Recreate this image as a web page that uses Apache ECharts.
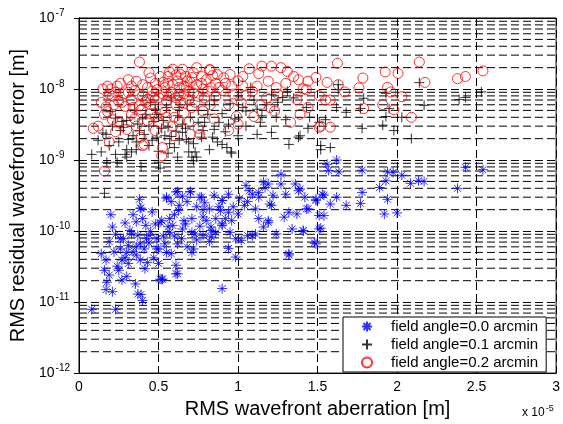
<!DOCTYPE html>
<html>
<head>
<meta charset="utf-8">
<script src="https://cdn.jsdelivr.net/npm/echarts@6/dist/echarts.min.js"></script>
<style>
  html, body { margin: 0; padding: 0; background: #fff; }
  #chart { width: 563px; height: 424px; }
</style>
</head>
<body>
<div id="chart"></div>
<script>
// x values in units of 1e-5 m, y values in m
const xTicks = [0, 0.5, 1, 1.5, 2, 2.5, 3];
const minorGridY = [
  2e-12, 3e-12, 4e-12, 5e-12, 6e-12, 7e-12, 8e-12, 9e-12,
  2e-11, 3e-11, 4e-11, 5e-11, 6e-11, 7e-11, 8e-11, 9e-11,
  2e-10, 3e-10, 4e-10, 5e-10, 6e-10, 7e-10, 8e-10, 9e-10,
  2e-9, 3e-9, 4e-9, 5e-9, 6e-9, 7e-9, 8e-9, 9e-9,
  2e-8, 3e-8, 4e-8, 5e-8, 6e-8, 7e-8, 8e-8, 9e-8
];
const legendNames = ['field angle=0.0 arcmin', 'field angle=0.1 arcmin', 'field angle=0.2 arcmin'];

const angle00 = [
  [0.08,7.9e-12],[0.23,7.9e-12],[0.17,1.5e-11],[0.21,1.4e-11],[0.37,1.3e-11],[0.39,1.28e-11],[0.40,1.05e-11],[0.90,1.55e-11],
  [0.38,2.8e-10],[0.385,2.1e-10],[0.20,1.7e-10],[0.21,1.14e-10],[0.19,7.1e-11],[0.17,3.9e-11],[0.16,2.8e-11],[0.175,1.9e-11],
  [0.26,5.6e-11],[0.27,3.9e-11],[0.25,2.8e-11],[0.27,2.05e-11],[0.31,3.5e-11],[0.30,2.3e-11],[0.355,1.8e-11],[0.33,9.1e-11],
  [0.36,1.35e-10],[0.385,3.9e-11],[0.415,2.95e-11],[0.31,6.3e-11],[0.34,5.1e-11],[0.45,9.8e-11],[0.48,1.26e-10],[0.46,1.86e-10],
  [0.50,5.6e-11],[0.50,3.5e-11],[0.52,2.1e-11],[0.54,6.6e-11],[0.55,3e-10],[0.61,3.55e-10],[0.625,1.95e-10],[0.59,1.2e-10],
  [0.58,4.8e-11],[0.61,2.5e-11],[0.645,7.8e-11],[0.67,1.26e-10],[0.70,3.55e-10],[0.72,5.6e-11],[0.73,9.1e-11],[0.77,3e-10],
  [0.78,1.58e-10],[0.82,2.05e-10],[0.83,1.02e-10],[0.52,1.4e-10],[0.425,7.8e-11],[0.385,6.6e-11],[0.28,7.8e-11],[0.22,5.1e-11],
  [1.62,1.0e-9],[1.56,8.7e-10],[1.57,7.1e-10],[1.635,6.8e-10],[1.27,6.3e-10],[1.05,4.4e-10],[1.16,4.9e-10],[1.19,4.6e-10],
  [1.27,4.6e-10],[1.36,4.6e-10],[1.38,3.7e-10],[1.13,3.5e-10],[0.94,3.3e-10],[1.07,3.7e-10],[1.30,3.3e-10],[1.22,3.2e-10],
  [1.42,3e-10],[1.49,2.8e-10],[1.54,3.2e-10],[1.62,3e-10],[1.68,2.3e-10],[1.58,2.4e-10],[0.90,2.7e-10],[1.06,2.6e-10],
  [1.20,2.4e-10],[1.11,2.05e-10],[1.32,1.84e-10],[1.37,1.74e-10],[1.43,2.05e-10],[1.29,1.57e-10],[1.19,1.33e-10],[1.16,1.14e-10],
  [1.11,9.1e-11],[1.09,8.6e-11],[1.06,8.6e-11],[1.02,7.4e-11],[1.24,9.1e-11],[1.34,1.07e-10],[1.41,1.02e-10],[1.51,1.07e-10],
  [1.51,1.65e-10],[1.54,1.65e-10],[1.49,6.6e-11],[1.32,4.6e-11],[0.985,4.3e-11],[0.94,5.7e-11],[0.96,1.4e-10],[1.00,1.74e-10],
  [0.89,1.95e-10],[0.86,1.5e-10],[0.83,1.14e-10],[0.82,7.1e-11],[0.90,1.2e-10],[0.95,9.6e-11],
  [1.78,7.2e-10],[1.94,6.8e-10],[1.975,6.7e-10],[2.03,6.1e-10],[1.93,5.1e-10],[1.89,4.1e-10],[2.085,4.7e-10],[2.135,5.1e-10],
  [2.17,5e-10],[2.38,4e-10],[2.43,7.9e-10],[2.54,7.3e-10],[1.78,3.5e-10],[1.77,2.45e-10],[1.94,2.8e-10],[1.92,1.74e-10],
  [2.00,1.8e-10],[1.53,3.3e-10],[1.49,2.7e-10],[1.52,1.1e-10],[1.41,1.0e-10],[1.48,6.8e-11],[1.44,2.05e-10],[1.39,3.9e-10],
  [0.62,3.6e-10],[0.70,3.6e-10],[0.76,3e-10],[0.90,2.7e-10],[0.39,2.1e-10],[0.55,2.9e-10],[0.63,2.3e-10],[0.78,2e-10],
  [0.80,1.4e-10],[0.90,1.26e-10],[0.94,1.84e-10],[0.985,7.8e-11],[0.51,2.1e-11],[0.525,2.1e-11],[0.62,2.5e-11],[0.71,5e-11],
  [0.61,3.3e-11],[0.83,8.3e-11],[0.78,8.7e-11],[0.71,9.6e-11],[0.65,1.07e-10],[0.57,9.6e-11],[0.51,1.33e-10],[0.49,7.8e-11],
  [0.41,5.6e-11],[0.36,4.6e-11],[0.30,5e-11],[0.26,7.8e-11],[0.32,1.02e-10],[0.37,8.7e-11],[0.44,8.7e-11],[0.42,1.2e-10],
  [0.57,1.5e-10],[0.71,1.5e-10],[0.76,1.17e-10],[0.62,6.6e-11],[0.55,5e-11],[0.49,5.6e-11],[1.09,3.3e-10],[1.17,4.1e-10],
  [1.13,3e-10],[1.04,2.3e-10],[1.21,2.3e-10],[1.32,4.8e-11],[1.19,1.4e-10],[1.13,1.5e-10],
  [0.23,9e-11],[0.29,1.3e-10],[0.34,1.7e-10],[0.40,1.5e-10],[0.44,6.8e-11],[0.47,4.2e-11],[0.53,8.5e-11],[0.56,1.15e-10],
  [0.60,1.7e-10],[0.66,1.4e-10],[0.68,2.6e-10],[0.74,2.2e-10],[0.79,2.5e-10],[0.85,3.2e-10],[0.88,2.2e-10],[0.92,1.5e-10],
  [0.97,2.2e-10],[1.01,2.9e-10],[0.58,2.6e-10],[0.65,3.1e-10],[0.36,6e-11],[0.29,4.2e-11],[0.24,3.2e-11],[0.19,2.4e-11],
  [0.14,4.8e-11],[0.43,3.6e-11],[0.68,6e-11],[0.74,7.5e-11],[0.86,9.5e-11],[0.60,8.5e-11]
];

const angle01 = [
  [0.08,1.2e-9],[0.17,2.3e-9],[0.23,1.2e-9],[0.24,9.3e-10],[0.30,1.1e-9],[0.33,1.3e-9],[0.36,1.8e-9],[0.21,3e-9],
  [0.27,3.5e-9],[0.31,1.95e-9],[0.44,3e-9],[0.49,2.1e-9],[0.50,9.3e-10],[0.56,2.9e-9],[0.58,2.15e-9],[0.61,2.55e-9],
  [0.65,2.45e-9],[0.675,1.95e-9],[0.72,9.8e-10],[0.73,1.3e-9],[0.77,2.1e-9],[0.69,1.3e-9],[0.75,3.4e-9],[0.81,4.4e-9],
  [0.49,4.4e-9],[0.42,4.4e-9],[0.50,1.33e-9],[0.54,2.2e-9],[0.29,1.2e-9],
  [0.87,1.8e-9],[0.90,1.66e-9],[0.93,1.5e-9],[0.955,1.3e-9],[0.88,3.4e-9],[0.94,3.2e-9],[1.00,2.2e-9],[1.12,2.3e-9],
  [1.14,3.4e-9],[1.21,2.45e-9],[1.32,1.66e-9],[1.39,2.2e-9],[1.30,3.7e-9],[1.28,7.6e-9],[1.18,6e-9],[1.21,8.3e-9],
  [1.31,9.3e-9],[1.08,1.05e-8],[1.05,4.9e-9],[1.24,4e-9],[1.43,5.5e-9],[1.51,3.4e-9],[1.55,3.7e-9],[1.62,5.5e-9],
  [1.63,9.8e-9],[1.52,1.6e-9],[1.58,1.5e-9],[0.82,6e-9],[0.85,2.7e-9],
  [1.63,1.15e-8],[1.79,7.4e-9],[1.77,5.3e-9],[1.93,8.7e-9],[1.95,5.3e-9],[1.93,4.1e-9],[2.03,4e-9],[1.91,3.1e-9],
  [1.98,2.6e-9],[1.78,2.8e-9],[2.09,2e-9],[2.17,5.9e-9],[2.14,1.23e-8],[2.39,7.1e-9],[2.43,7.6e-9],[2.53,9.1e-9],
  [1.38,2.1e-9],[1.52,1.4e-9],[1.68,4.7e-9],[1.44,2.8e-9],
  [0.16,3.4e-10],[0.175,9.3e-10],[0.39,8.1e-10],[0.51,7.7e-10],[0.71,1.1e-9],[0.74,1.1e-9],[0.69,1.8e-9],[0.96,1.25e-9],
  [0.30,1.4e-9],[0.36,1.4e-9],
  [0.35,5e-9],[0.45,6.5e-9],[0.55,5.5e-9],[0.62,4.2e-9],[0.68,6e-9],[0.75,5e-9],[0.85,7e-9],[0.90,4.5e-9],
  [0.95,6.2e-9],[1.00,8e-9],[0.58,7.5e-9],[0.40,3.8e-9],[0.30,3.6e-9],[0.20,4.8e-9],[0.15,2.4e-9],[0.12,1.9e-9],
  [0.52,2.8e-9],[0.65,3.2e-9],[0.78,2.6e-9],[0.72,1.7e-9],[0.82,1.4e-9],[0.60,1.5e-9],[0.44,1.6e-9],[0.26,2.6e-9],
  [1.10,7e-9],[1.15,4.2e-9],[1.25,6.5e-9],[1.35,7.5e-9],[1.45,4e-9],[1.05,3e-9],
  [0.14,1.3e-9],[0.19,1.6e-9],[0.25,1.8e-9],[0.28,2.9e-9],[0.34,2.2e-9],[0.38,2.6e-9],[0.41,2.3e-9],[0.46,1.9e-9],
  [0.47,3.5e-9],[0.53,3.6e-9],[0.57,1.7e-9],[0.63,1.9e-9],[0.67,2.8e-9],[0.70,4e-9],[0.79,3.4e-9],[0.84,2.1e-9],
  [0.92,2.5e-9],[0.98,3.8e-9],[1.03,5.5e-9],[1.12,5.2e-9],[0.63,5.5e-9],[0.48,5.2e-9],[0.37,3.2e-9],[0.23,3.9e-9],
  [0.56,1.25e-9],[0.62,1.1e-9]
];

const angle02 = [
  [0.38,2.4e-8],[0.09,2.8e-9],[0.16,7e-10],[0.525,1.5e-9],[0.40,1.6e-9],[0.19,1.8e-9],
  [1.625,2.3e-8],[2.14,2.4e-8],[2.54,1.8e-8],[2.43,1.5e-8],[2.38,1.4e-8],[2.175,1.24e-8],[2.006,1.66e-8],[1.925,1.74e-8],
  [1.785,1.43e-8],[1.76,1.04e-8],[1.94,1.06e-8],[1.96,9.1e-9],[2.03,7.8e-9],[1.91,6e-9],[1.98,5.1e-9],[2.09,4e-9],
  [1.79,5.3e-9],[1.63,1.15e-8],[1.67,9.1e-9],[1.58,7e-9],[1.51,2.9e-9],[1.58,2.9e-9],[1.56,1.24e-8],[1.49,1.46e-8],
  [1.44,1.29e-8],[1.55,7e-9],[1.44,5.5e-9],[1.51,8.1e-9],[1.41,1e-8],
  [1.07,1.93e-8],[1.15,2.1e-8],[1.21,2.1e-8],[1.27,2.0e-8],[1.31,1.77e-8],[1.13,1.65e-8],[0.91,1.44e-8],[1.03,1.5e-8],
  [1.38,1.35e-8],[1.19,1.29e-8],[1.03,1.1e-8],[0.96,1.1e-8],[0.88,1.05e-8],[0.82,1.87e-8],[1.24,1.05e-8],[1.43,9.8e-9],
  [1.09,9.3e-9],[0.86,7.9e-9],[1.37,7.1e-9],[1.02,6.4e-9],[0.94,6e-9],[1.14,6e-9],[1.23,4.9e-9],[1.39,4.4e-9],
  [0.99,4.1e-9],[1.10,4.1e-9],[1.33,3.4e-9],[0.94,2.6e-9],[1.52,3e-9],
  [0.17,5.6e-9],[0.16,4.4e-9],[0.18,1.1e-8],[0.20,1e-8],[0.24,1.1e-8],[0.21,7.9e-9],[0.25,6.7e-9],[0.21,3.7e-9],
  [0.23,2.5e-9],[0.29,5.7e-9],[0.33,1.1e-8],[0.33,7.1e-9],[0.33,4.4e-9],[0.36,1.29e-8],[0.375,8.3e-9],[0.39,5.1e-9],
  [0.36,3e-9],[0.41,1.66e-9],[0.45,1.43e-8],[0.46,9.3e-9],[0.45,6e-9],[0.48,4e-9],[0.52,1.15e-9],[0.51,1.5e-8],
  [0.50,7.6e-9],[0.54,1.05e-8],[0.56,1.5e-8],[0.59,1.15e-8],[0.61,1.58e-8],[0.625,8.3e-9],[0.61,6e-9],[0.67,1.5e-8],
  [0.675,1.05e-8],[0.69,7.1e-9],[0.72,1.7e-8],[0.74,1.15e-8],[0.75,7.9e-9],[0.71,5.5e-9],[0.69,3.4e-9],[0.70,2.3e-9],
  [0.76,2.3e-9],[0.825,1.87e-8],[0.81,9.3e-9],[0.825,6e-9],[0.78,4.9e-9],[0.54,4.7e-9],[0.50,3.4e-9],[0.59,3e-9],
  [0.39,2.1e-9],[0.25,3.5e-9],[0.30,2.7e-9],
  [0.62,1.3e-8],[0.58,9e-9],[0.64,6.5e-9],[0.70,1.25e-8],[0.78,1.0e-8],[0.55,6.8e-9],[0.48,1.2e-8],[0.42,6.5e-9],
  [0.80,1.35e-8],[0.86,1.2e-8],[0.90,9.5e-9],[0.72,8.8e-9],[0.66,4.6e-9],[0.60,4e-9],[0.52,5.2e-9],[0.45,4.5e-9],
  [0.38,5.8e-9],[0.35,9.5e-9],[0.28,8.5e-9],[0.22,6e-9],[0.14,6.5e-9],[0.26,1.2e-8],[0.12,3e-9],[0.95,1.6e-8],
  [1.00,1.3e-8],[1.05,8.2e-9],[1.12,1.1e-8],[1.18,7.5e-9],[1.25,8.5e-9],[1.30,1.2e-8],[1.35,1.5e-8],[1.20,5.5e-9],
  [1.00,3.2e-9],[0.85,3.8e-9],[0.75,2.8e-9],[0.60,2.2e-9],[0.48,2.6e-9],
  [0.57,1.75e-8],[0.65,1.9e-8],[0.68,1.3e-8],[0.53,1.25e-8],[0.63,1.05e-8],[0.77,1.5e-8],[0.84,1.55e-8],[0.43,1.05e-8],
  [0.47,7.5e-9],[0.57,8e-9],[0.66,8.5e-9],[0.73,6.5e-9],[0.40,8e-9],[0.31,9e-9],[0.19,8.5e-9],[0.15,1e-8],
  [0.23,9e-9],[0.27,6.5e-9],[0.31,1.35e-8],[0.34,5.5e-9],[0.40,1.15e-8],[0.43,7.2e-9],[0.44,1.7e-8],[0.49,9.8e-9],
  [0.53,8.5e-9],[0.56,1.2e-8],[0.59,1.9e-8],[0.61,7.5e-9],[0.64,1.6e-8],[0.66,1.1e-8],[0.69,9.2e-9],[0.71,1.45e-8],
  [0.74,2.0e-8],[0.77,1.2e-8],[0.79,7.5e-9],[0.83,1.05e-8],[0.87,1.6e-8],[0.92,1.2e-8],[0.97,8.5e-9],[0.55,4e-9],
  [0.63,3.5e-9],[0.43,3.6e-9],[0.35,3.8e-9],[0.18,4.8e-9]
];

const FONT = 'Liberation Sans, Arial, sans-serif';
const dash = [8, 4];
const asterisk = 'path://M5 0L5 10M0 5L10 5M1.5 1.5L8.5 8.5M8.5 1.5L1.5 8.5';
const plus = 'path://M5 0L5 10M0 5L10 5';

const chart = echarts.init(document.getElementById('chart'), null, { renderer: 'canvas' });

const option = {
  backgroundColor: '#fff',
  animation: false,
  textStyle: { fontFamily: FONT },
  grid: {
    left: 79, right: 4, top: 18, bottom: 49,
    show: true, borderColor: '#000', borderWidth: 1, backgroundColor: '#fff'
  },
  legend: {
    data: legendNames,
    orient: 'vertical',
    left: 343, top: 317,
    padding: [2, 8, 2, 18],
    itemGap: 3,
    itemWidth: 10, itemHeight: 12,
    borderColor: '#000', borderWidth: 1, backgroundColor: '#fff',
    textStyle: { fontSize: 15, color: '#000', fontFamily: FONT, padding: [0, 0, 0, 14] },
    selectedMode: false
  },
  xAxis: [
    {
      type: 'value', min: 0, max: 3, interval: 0.5,
      name: 'RMS wavefront aberration [m]', nameLocation: 'middle', nameGap: 25,
      nameTextStyle: { fontSize: 20, color: '#000', fontFamily: FONT },
      axisLine: { show: true, lineStyle: { color: '#000' } },
      axisTick: { inside: true, length: 5, lineStyle: { color: '#000' } },
      axisLabel: { fontSize: 14, color: '#000', margin: 7, formatter: v => String(v) },
      splitLine: { show: true, lineStyle: { color: '#000', type: dash, width: 1 } }
    },
    {
      type: 'value', min: 0, max: 3, interval: 0.5, position: 'top',
      axisLine: { show: true, lineStyle: { color: '#000' } },
      axisTick: { inside: true, length: 5, lineStyle: { color: '#000' } },
      axisLabel: { show: false }, splitLine: { show: false }
    }
  ],
  yAxis: [
    {
      type: 'log', logBase: 10, min: 1e-12, max: 1e-7,
      name: 'RMS residual wavefront error [m]', nameLocation: 'middle', nameGap: 51,
      nameTextStyle: { fontSize: 20, color: '#000', fontFamily: FONT },
      axisLine: { show: true, lineStyle: { color: '#000' } },
      axisTick: { inside: true, length: 5, lineStyle: { color: '#000' } },
      axisLabel: {
        margin: 40, align: 'left', color: '#000',
        formatter: v => '{b|10}{e|' + Math.round(Math.log10(v)) + '}',
        rich: {
          b: { fontSize: 14, color: '#000', fontFamily: FONT },
          e: { fontSize: 10, color: '#000', fontFamily: FONT, padding: [0, 0, 10, 1] }
        }
      },
      splitLine: { show: true, lineStyle: { color: '#000', type: dash, width: 1 } }
    },
    {
      type: 'log', logBase: 10, min: 1e-12, max: 1e-7, position: 'right',
      axisLine: { show: true, lineStyle: { color: '#000' } },
      axisTick: { inside: true, length: 5, lineStyle: { color: '#000' } },
      axisLabel: { show: false }, splitLine: { show: false }
    }
  ],
  graphic: [
    {
      type: 'text', left: 522, top: 404, silent: true,
      style: {
        text: '{a|x 10}{e|-5}',
        rich: {
          a: { fontSize: 12, fill: '#000', fontFamily: FONT },
          e: { fontSize: 9, fill: '#000', fontFamily: FONT, padding: [0, 0, 9, 1] }
        }
      }
    }
  ],
  series: [
    {
      // minor log grid lines (2..9 x 10^n)
      name: 'minor grid', type: 'custom', z: 1, silent: true,
      data: minorGridY.map(v => [v]),
      renderItem: (params, api) => {
        const v = api.value(0);
        const p1 = api.coord([0, v]);
        const p2 = api.coord([3, v]);
        return {
          type: 'line',
          shape: { x1: p1[0], y1: p1[1], x2: p2[0], y2: p2[1] },
          style: { stroke: '#000', lineWidth: 1, lineDash: dash }
        };
      },
      encode: { y: 0 }
    },
    {
      name: legendNames[0], type: 'scatter', symbol: asterisk, symbolSize: 10, z: 3,
      itemStyle: { color: 'rgba(0,0,0,0)', borderColor: '#0000ff', borderWidth: 1 },
      data: angle00
    },
    {
      name: legendNames[1], type: 'scatter', symbol: plus, symbolSize: 10, z: 3,
      itemStyle: { color: 'rgba(0,0,0,0)', borderColor: '#000000', borderWidth: 1 },
      data: angle01
    },
    {
      name: legendNames[2], type: 'scatter', symbol: 'circle', symbolSize: 10, z: 3,
      itemStyle: { color: 'rgba(0,0,0,0)', borderColor: '#ff0000', borderWidth: 1 },
      data: angle02
    }
  ]
};

chart.setOption(option);
</script>
</body>
</html>
